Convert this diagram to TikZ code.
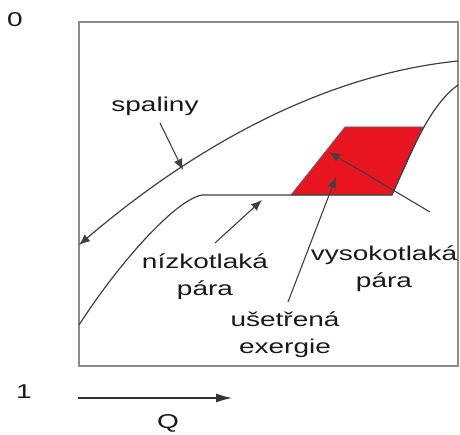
\documentclass[tikz,border=0pt]{standalone}
\usepackage{fontspec}
\setmainfont{Liberation Sans}[FakeStretch=1.4]
\usetikzlibrary{arrows.meta}
\definecolor{exred}{RGB}{232,20,32}

\begin{document}
\begin{tikzpicture}[x=1pt,y=-1pt,
  curve/.style={draw=black!75,line width=1.2pt},
  pointer/.style={-{Latex[length=11pt,width=9pt]},draw=black!75,line width=1.1pt},
  lbl/.style={font=\fontsize{20}{27}\selectfont,align=center,text=black!90,inner sep=0pt}]
\useasboundingbox (0,0) rectangle (460,435);
\draw[black!45,line width=1.5pt] (79,22) rectangle (458,366);
% saved exergy region
\fill[exred,draw=black!60,line width=0.8pt] (291,195) -- (345,127) -- (423,127) -- (392,195) -- cycle;
% gas line
\coordinate (g0) at (458,61); \coordinate (g1) at (79,245);
\draw[curve,-{Latex[length=11pt,width=9pt]}] (g0) .. controls (320,75) and (190,150) .. (g1);
% steam line
\coordinate (s0) at (79,325); \coordinate (s1) at (202,195);
\coordinate (s2) at (392,195); \coordinate (s3) at (458,85);
\draw[curve] (s0) .. controls (119,263) and (175,200) .. (s1) -- (s2) .. controls (412,150) and (430,105) .. (s3);
% labels
\node[lbl] (gas) at (155,106) {spaliny};
\node[lbl] (low) at (205,277) {nízkotlaká\\pára};
\node[lbl] (high) at (384,269) {vysokotlaká\\pára};
\node[lbl] (saved) at (285,335) {ušetřená\\exergie};
\node[lbl] (zero) at (15,20) {0};
\node[lbl] (one) at (24,392) {1};
\node[lbl] (q) at (168,423) {Q};
% pointers
\coordinate (gasA) at (160,123); \coordinate (gasB) at (183,170);
\coordinate (lowA) at (215,243); \coordinate (lowB) at (262,200);
\coordinate (highA) at (430,212); \coordinate (highB) at (329,152);
\coordinate (savA) at (288,302); \coordinate (savB) at (336,177);
\draw[pointer] (gasA) -- (gasB);
\draw[pointer] (lowA) -- (lowB);
\draw[pointer] (highA) -- (highB);
\draw[pointer] (savA) -- (savB);
% Q axis
\coordinate (qa) at (78,398); \coordinate (qb) at (232,398);
\draw[-{Latex[length=16pt,width=9pt]},black!80,line width=1.1pt] (qa) -- (qb);
\end{tikzpicture}
\end{document}
